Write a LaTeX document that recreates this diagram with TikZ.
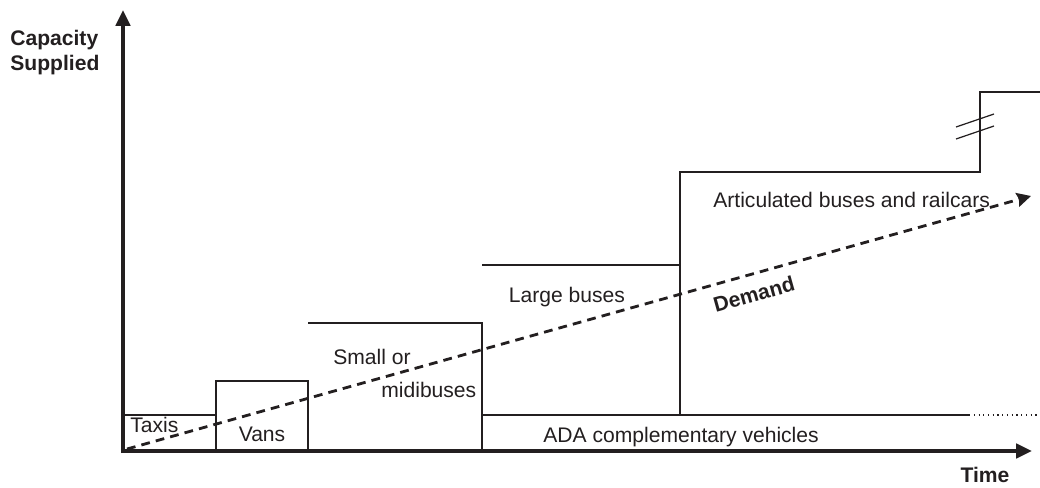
\documentclass[tikz,border=0pt]{standalone}
\usepackage{fontspec}
\setmainfont{Liberation Sans}
\usepackage{xcolor}
\definecolor{chartink}{HTML}{231F20}
\usetikzlibrary{arrows.meta}

\begin{document}
\begin{tikzpicture}[
    x=0.02cm, y=-0.02cm,
    axis/.style={line width=2.4pt, draw=chartink, -{Triangle[width=8pt,length=9pt]}},
    stepline/.style={line width=0.7pt, draw=chartink},
    demandline/.style={line width=1.6pt, draw=chartink, dash pattern=on 5pt off 3.5pt, -{Stealth[width=8pt,length=8pt,inset=1pt]}},
    lbl/.style={font=\fontsize{12pt}{14pt}\selectfont, text=chartink, inner sep=0pt},
    axislbl/.style={font=\fontsize{12pt}{14pt}\selectfont\bfseries, text=chartink, inner sep=0pt, align=left}
]
\useasboundingbox (0,0) rectangle (1040,487);

% Axes
\coordinate (origin) at (123,451);
\coordinate (ytop) at (123,10);
\coordinate (xend) at (1032,451);
\draw[axis] ([yshift=-1.2pt]origin) -- (ytop);
\draw[axis] ([xshift=-1.2pt]origin) -- (xend);
\node[axislbl, anchor=north west] (capacity) at (10,30) {Capacity\\Supplied};
\node[axislbl] (time) at (985,475) {Time};

% Vehicle steps
\draw[stepline] (123,415) -- (216,415);
\draw[stepline] (216,451) -- (216,381) -- (308,381) -- (308,451);
\draw[stepline] (308,323) -- (482,323) -- (482,451);
\draw[stepline] (482,265) -- (680,265);
\draw[stepline] (680,415) -- (680,172) -- (980,172) -- (980,92) -- (1040,92);
\draw[stepline] (482,415) -- (969,415);
\draw[stepline, dotted, line width=0.6pt] (969,415) -- (1040,415);

% Break marks
\draw[stepline] (956,127) -- (994,114);
\draw[stepline] (956,139) -- (994,126);

% Labels
\node[lbl, anchor=west] (taxis) at (130,425) {Taxis};
\node[lbl] (vans) at (262,434) {Vans};
\node[lbl, anchor=west] (small) at (333,357) {Small or};
\node[lbl, anchor=west] (midi) at (381,390) {midibuses};
\node[lbl] (large) at (567,297) {Large buses};
\node[lbl, anchor=west] (artic) at (713,200) {Articulated buses and railcars};
\node[lbl, anchor=west] (ada) at (543,437) {ADA complementary vehicles};

% Demand
\coordinate (dstart) at (127,449);
\coordinate (dend) at (1031,196);
\draw[demandline] (dstart) -- (dend);
\node[lbl, font=\fontsize{12pt}{14pt}\selectfont\bfseries, rotate=15.6] (demand) at (754,294) {Demand};

\end{tikzpicture}
\end{document}
